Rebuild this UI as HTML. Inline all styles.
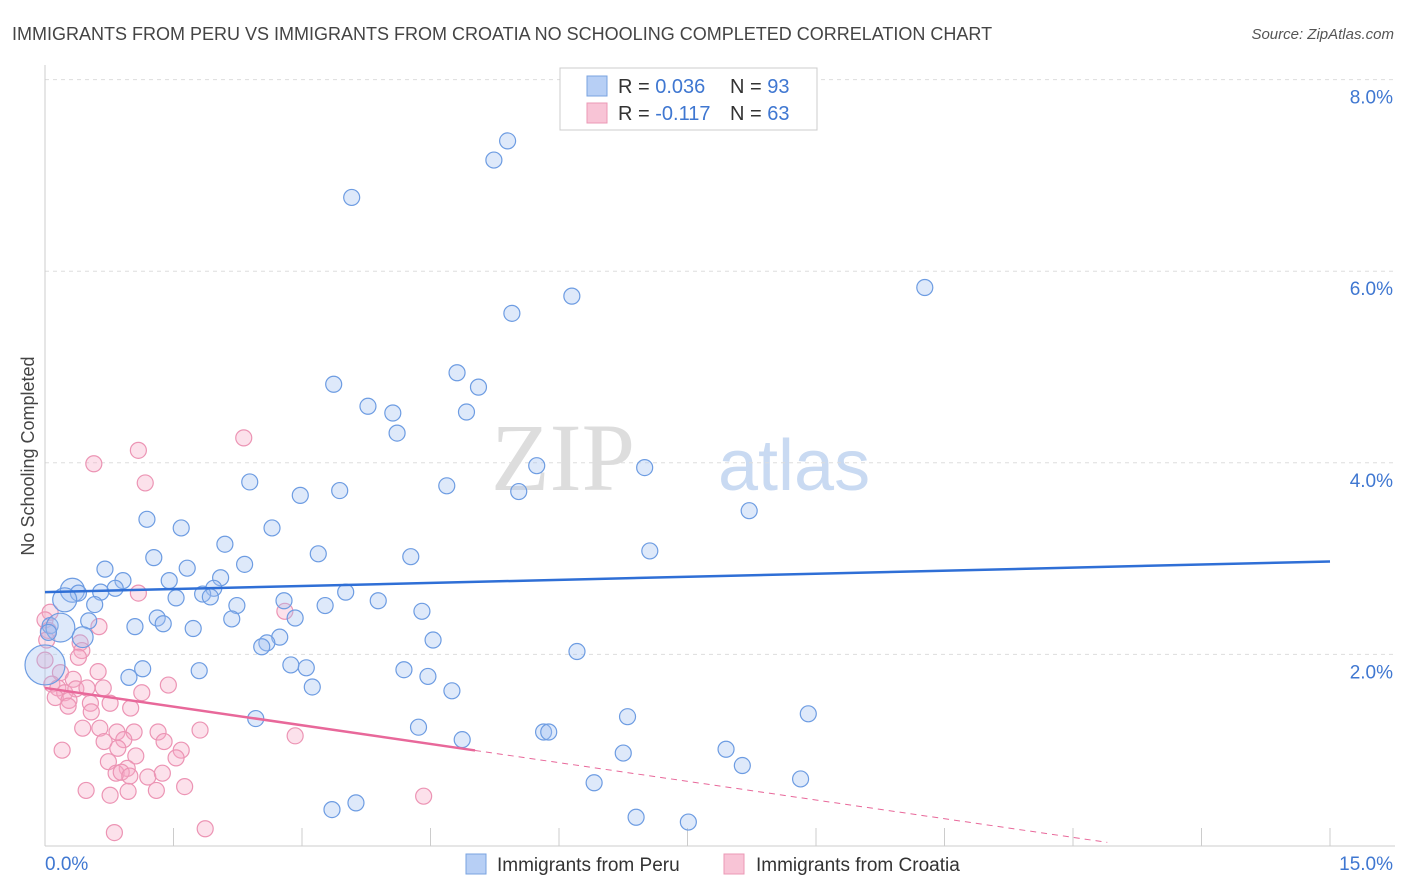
<!DOCTYPE html>
<html><head><meta charset="utf-8"><style>
body{margin:0;background:#fff;font-family:"Liberation Sans",sans-serif;}
svg{display:block}
</style></head><body>
<svg id="c" width="1406" height="892">
<text x="12" y="40" font-size="18" fill="#444">IMMIGRANTS FROM PERU VS IMMIGRANTS FROM CROATIA NO SCHOOLING COMPLETED CORRELATION CHART</text>
<text x="1394" y="39" font-size="15" fill="#555" font-style="italic" text-anchor="end">Source: ZipAtlas.com</text>
<text x="0" y="0" font-size="18" fill="#444" text-anchor="middle" transform="translate(34,456) rotate(-90)">No Schooling Completed</text>
<g><text x="635" y="490" font-size="96" fill="#ddd" font-family="Liberation Serif,serif" text-anchor="end">ZIP</text><text x="718" y="490" font-size="72" fill="#c9daf2">atlas</text></g>
<g id="grid"></g><g id="axes"></g><g id="pts"></g><g id="lines"></g>
<g>
<rect x="560" y="68" width="257" height="62" fill="#fff" stroke="#ccc"/>
<rect x="587" y="76" width="20" height="20" fill="#b7cff5" stroke="#7aa3e0"/>
<rect x="587" y="103" width="20" height="20" fill="#f8c4d6" stroke="#eb98b6"/>
<text x="618" y="93" font-size="20" fill="#333">R = <tspan fill="#3f77d1">0.036</tspan><tspan x="730">N = </tspan><tspan fill="#3f77d1">93</tspan></text>
<text x="618" y="120" font-size="20" fill="#333">R = <tspan fill="#3f77d1">-0.117</tspan><tspan x="730">N = </tspan><tspan fill="#3f77d1">63</tspan></text>
</g>
<g>
<rect x="466" y="854" width="20" height="20" fill="#b7cff5" stroke="#7aa3e0"/>
<text x="497" y="871" font-size="19" fill="#333">Immigrants from Peru</text>
<rect x="724" y="854" width="20" height="20" fill="#f8c4d6" stroke="#eb98b6"/>
<text x="756" y="871" font-size="19" fill="#333">Immigrants from Croatia</text>
</g>
</svg>
<script>
const yTicks=[2,4,6,8];
const yTickLabels=["2.0%","4.0%","6.0%","8.0%"];
const xTickLabels=["0.0%","15.0%"];
const peruX=[5.40,5.24,3.58,6.15,10.27,5.45,3.37,4.81,5.06,3.77,4.06,4.92,4.11,5.74,7.00,4.69,5.53,2.39,2.98,3.44,8.22,1.19,1.59,2.65,7.06,2.10,1.27,2.33,3.19,4.27,0.70,1.66,0.91,1.45,2.05,0.82,0.65,0.32,0.39,0.23,0.58,1.53,1.97,1.84,1.93,2.79,3.51,3.89,2.24,3.27,4.40,1.31,0.51,1.38,1.05,1.73,2.18,2.92,0.06,0.18,0.44,4.53,2.74,2.59,2.53,6.21,0.0,1.14,1.80,0.98,2.87,3.05,4.19,4.47,3.12,4.75,2.46,4.36,6.80,8.91,4.87,5.82,5.88,6.75,7.95,8.14,8.82,6.41,3.63,3.35,6.90,7.51,0.04];
const peruY=[7.36,7.16,6.77,5.74,5.83,5.56,4.82,4.94,4.79,4.59,4.52,4.53,4.31,3.97,3.95,3.76,3.70,3.80,3.66,3.71,3.50,3.41,3.32,3.32,3.08,3.15,3.01,2.94,3.05,3.02,2.89,2.90,2.77,2.77,2.80,2.69,2.65,2.67,2.64,2.57,2.52,2.59,2.69,2.63,2.60,2.56,2.65,2.56,2.51,2.51,2.45,2.38,2.35,2.32,2.29,2.27,2.37,2.38,2.30,2.28,2.18,2.15,2.18,2.12,2.08,2.03,1.89,1.85,1.83,1.76,1.89,1.86,1.84,1.77,1.66,1.62,1.33,1.24,1.35,1.38,1.11,1.19,1.19,0.97,1.01,0.84,0.70,0.66,0.45,0.38,0.30,0.25,2.23];
const peruSize=[];for(let i=0;i<peruX.length;i++)peruSize.push(1);
peruSize[66]=2.5;peruSize[59]=1.8;peruSize[37]=1.5;peruSize[39]=1.5;peruSize[60]=1.3;
const croX=[2.32,1.09,0.57,1.17,0.06,0,1.09,0.63,0.41,0.43,0.18,0.33,0.62,0.08,0.15,0.23,0.36,0.49,0.68,0.12,0.28,0.27,0.53,0.76,0.54,1.00,1.44,1.13,0.44,0.64,0.84,1.04,1.32,1.81,0.92,0.69,0.85,1.39,1.59,1.06,0.20,1.53,0.74,0.96,0.83,0.89,1.20,1.37,0.99,0.48,0.76,0.97,1.30,1.63,4.42,0.81,1.87,2.80,2.92,0,0.39,0.04,0.02];
const croY=[4.26,4.13,3.99,3.79,2.44,2.36,2.64,2.29,2.12,2.04,1.81,1.74,1.82,1.69,1.65,1.60,1.64,1.65,1.65,1.55,1.52,1.46,1.49,1.49,1.40,1.44,1.68,1.60,1.23,1.23,1.19,1.19,1.19,1.21,1.11,1.09,1.02,1.09,1.00,0.94,1.00,0.92,0.88,0.81,0.76,0.77,0.72,0.76,0.73,0.58,0.53,0.57,0.58,0.62,0.52,0.14,0.18,2.45,1.15,1.94,1.97,2.25,2.15];
const peruTrend=[2.65,2.97];
const croTrend=[1.65,-0.13];
const X0=45,X1=1330,Y0=846,PY=95.8;
const sx=v=>X0+(v/15)*(X1-X0), sy=v=>Y0-v*PY;
const NS="http://www.w3.org/2000/svg";
function mk(t,a,p){const e=document.createElementNS(NS,t);for(const k in a)e.setAttribute(k,a[k]);p.appendChild(e);return e;}
const g=document.getElementById('grid'),ax=document.getElementById('axes'),pts=document.getElementById('pts'),ln=document.getElementById('lines');
yTicks.forEach((t,i)=>{
 const l=mk('line',{x1:X0,x2:1395,y1:sy(t),y2:sy(t),stroke:'#ddd','stroke-dasharray':'4,4'},g);
 
 
 const tx=mk('text',{x:1393,y:sy(t)+24,'font-size':19,fill:'#3f77d1','text-anchor':'end'},ax);tx.textContent=yTickLabels[i];
 
 
});
const ax1=mk('line',{x1:X0,x2:X0,y1:65,y2:Y0,stroke:'#ccc'},ax);


const ax2=mk('line',{x1:X0,x2:1395,y1:Y0,y2:Y0,stroke:'#ccc'},ax);


for(let i=0;i<=10;i++){const x=sx(i*1.5);const t=mk('line',{x1:x,x2:x,y1:828,y2:Y0,stroke:'#ccc'},ax);
 
 }
const xl0=mk('text',{x:45,y:870,'font-size':19,fill:'#3f77d1'},ax);xl0.textContent=xTickLabels[0];


const xl1=mk('text',{x:1393,y:870,'font-size':19,fill:'#3f77d1','text-anchor':'end'},ax);xl1.textContent=xTickLabels[1];


croX.forEach((v,i)=>{const c=mk('circle',{cx:sx(v),cy:sy(croY[i]),r:8,fill:'rgba(246,170,198,0.35)',stroke:'#ec94b4','stroke-width':1.2},pts);
 
 });
peruX.forEach((v,i)=>{const c=mk('circle',{cx:sx(v),cy:sy(peruY[i]),r:8*peruSize[i],fill:'rgba(160,192,242,0.35)',stroke:'#6d9ce2','stroke-width':1.2},pts);
 
 });
const bl=mk('line',{x1:sx(0),y1:sy(peruTrend[0]),x2:sx(15),y2:sy(peruTrend[1]),stroke:'#2f6fd6','stroke-width':2.5},ln);


const cy=x=>croTrend[0]+croTrend[1]*x;
const pl=mk('line',{x1:sx(0),y1:sy(cy(0)),x2:sx(5.02),y2:sy(cy(5.02)),stroke:'#e8689a','stroke-width':2.5},ln);


const pd=mk('line',{x1:sx(5.02),y1:sy(cy(5.02)),x2:sx(12.4),y2:sy(cy(12.4)),stroke:'#e8689a','stroke-width':1,'stroke-dasharray':'6,5'},ln);


</script>
</body></html>
